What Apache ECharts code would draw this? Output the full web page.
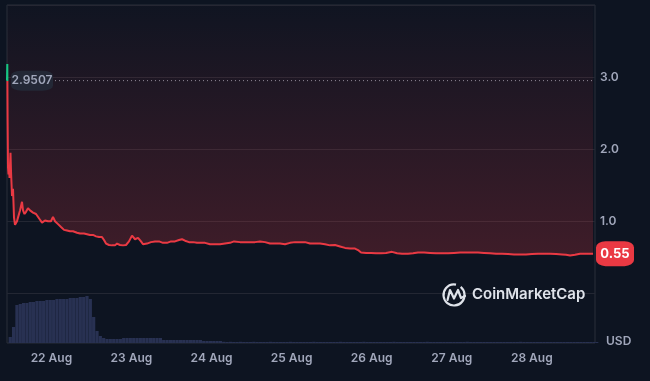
<!DOCTYPE html>
<html><head><meta charset="utf-8">
<script src="https://cdn.jsdelivr.net/npm/echarts@6/dist/echarts.min.js"></script>
<style>html,body{margin:0;padding:0;background:#0d1421;}#c{width:650px;height:381px;}</style>
</head><body><div id="c"></div>
<script>
// ---- data ----
const startTime = new Date(2024, 7, 21, 11, 10).getTime();
const spanHours = 175.3;
const priceHours = [0,0.09,0.18,0.3,0.45,0.6,0.75,1.04,1.19,1.49,1.79,2.09,2.39,2.68,2.98,3.28,3.88,4.47,4.77,5.22,5.67,6.26,6.86,7.75,8.65,9.24,9.84,10.44,11.33,12.22,13.12,13.71,14.31,15.21,16.1,17.0,17.89,18.78,19.68,20.87,21.77,22.96,23.85,24.75,25.64,26.54,27.43,28.32,28.92,29.52,30.41,31.31,32.2,32.8,33.69,34.59,35.48,36.37,37.27,38.16,39.06,39.95,40.55,41.74,42.93,44.13,45.32,46.51,47.7,48.9,50.09,51.28,52.18,53.07,54.26,55.46,56.65,57.84,59.03,60.52,62.02,63.51,65.0,66.49,67.68,69.47,70.96,72.45,73.94,75.43,76.92,78.41,79.9,81.4,82.89,84.38,85.87,87.36,88.85,90.34,91.83,93.32,94.81,96.3,97.79,99.28,100.78,102.27,103.76,104.65,105.55,107.04,108.53,110.02,111.51,113.0,114.79,116.28,117.77,119.56,121.05,122.54,124.33,126.12,127.91,129.7,131.49,133.27,135.06,136.85,138.64,140.43,142.22,144.01,145.8,147.58,149.37,151.16,152.95,154.74,156.53,158.32,160.11,161.9,163.69,165.47,166.67,167.86,169.35,170.84,172.34,173.83,174.72];
const prices = [2.9507,3.18,2.4,1.75,1.65,1.75,1.6,1.95,1.7,1.35,1.45,1.05,0.95,0.93,1.0,1.05,1.15,1.27,1.15,1.1,1.13,1.18,1.15,1.12,1.1,1.09,1.02,0.98,1.01,1.0,1.0,1.06,1.0,0.96,0.92,0.88,0.87,0.86,0.86,0.84,0.83,0.83,0.82,0.81,0.81,0.79,0.78,0.78,0.74,0.69,0.67,0.665,0.665,0.69,0.67,0.665,0.67,0.72,0.80,0.75,0.77,0.72,0.68,0.69,0.71,0.72,0.72,0.70,0.70,0.72,0.72,0.74,0.75,0.73,0.71,0.71,0.70,0.70,0.70,0.68,0.68,0.68,0.69,0.70,0.72,0.71,0.71,0.71,0.71,0.72,0.71,0.69,0.69,0.69,0.68,0.70,0.71,0.71,0.71,0.69,0.69,0.69,0.68,0.665,0.67,0.65,0.63,0.62,0.62,0.60,0.565,0.56,0.56,0.555,0.555,0.56,0.575,0.555,0.55,0.55,0.555,0.565,0.565,0.56,0.555,0.555,0.555,0.56,0.565,0.565,0.565,0.565,0.56,0.555,0.55,0.55,0.545,0.54,0.54,0.54,0.545,0.55,0.55,0.55,0.545,0.54,0.535,0.525,0.535,0.55,0.55,0.55,0.55];
// hourly volume (relative units), hour 0..175
const volumes = [6,16,38,39,40,40,41,41,42,42,42,43,43,43,44,44,44,44,45,45,45,46,46,47,44,26,12,7,5,4,4,4,4,4,5,5,5,5,5,5,5,5,5,5,5,5,3,3,3,3,3,3,3,3,3,3,3,3,2,2,2,2,2,2,1.2,1,1.2,1,1,1.2,1,1,1,1.2,1,1,1,1,1.2,1,1,1,1,1,1.2,1,1,1,1,1,1,1.2,1,1,1,1,1,1,1,1.2,1,1,1,1,1,1,1.2,1,1,1,1,1,1,1,1,1.2,1,1,1,1,1,1,1,1,1,1.2,1,1,1,1,1,1,1,1,1,1,1,1.2,1,1,1,1,1,1,1,1,1,1,1,1,1,1,1,1.2,1,1,1,1,1,1,1,1,1,1,1,1,1,1,1,1,1,1,1,1,1,1,1];
const openPrice = 2.9507;
const lastPrice = 0.55;
const yTickValues = [1, 2, 3];
const dayLabels = {22:'22 Aug',23:'23 Aug',24:'24 Aug',25:'25 Aug',26:'26 Aug',27:'27 Aug',28:'28 Aug'};

// ---- build ----
const H = 3600 * 1000;
const endTime = startTime + spanHours * H;
const priceData = priceHours.map((h, i) => [startTime + h * H, prices[i]]);
const volData = volumes.map((v, i) => [startTime + (i + 0.5) * H, v]);

const chart = echarts.init(document.getElementById('c'), null, {renderer: 'canvas'});
const gridColor = '#232733';
const frameColor = '#2a2e3a';
const labelColor = '#a1a7bb';
const font = 'Inter, "Noto Sans", sans-serif';
const RED = '#ea3943', GREEN = '#16c784';

chart.setOption({
  backgroundColor: '#0d1421',
  animation: false,
  textStyle: {fontFamily: font},
  grid: [
    {left: 7, right: 55, top: 5, bottom: 87.7},
    {left: 7, right: 55, top: 293, bottom: 38},
    {left: 7, right: 55, top: 5, bottom: 38, show: true, borderColor: frameColor, borderWidth: 1, backgroundColor: 'transparent'}
  ],
  xAxis: [
    {type: 'time', gridIndex: 0, min: startTime, max: endTime, show: false},
    {type: 'time', gridIndex: 1, min: startTime, max: endTime,
      minInterval: 24 * H, maxInterval: 24 * H,
      axisLine: {show: false}, axisTick: {show: false}, splitLine: {show: false},
      axisLabel: {color: labelColor, fontSize: 12, fontWeight: 600, fontFamily: font, margin: 9,
        showMinLabel: false, showMaxLabel: false,
        formatter: v => { const d = new Date(v); return (d.getHours() === 0 && dayLabels[d.getDate()]) ? dayLabels[d.getDate()] : ''; }}},
    {type: 'value', gridIndex: 2, show: false}
  ],
  yAxis: [
    {type: 'value', gridIndex: 0, position: 'right', min: 0, max: 4, interval: 1,
      axisLine: {show: false}, axisTick: {show: false},
      splitLine: {lineStyle: {color: gridColor, width: 1}},
      axisLabel: {color: labelColor, fontSize: 12, fontWeight: 600, fontFamily: font, margin: 5,
        verticalAlign: 'middle', padding: [3, 0, 0, 0],
        formatter: v => yTickValues.includes(v) ? v.toFixed(1) : ''}},
    {type: 'value', gridIndex: 1, min: 0, max: 50, show: false},
    {type: 'value', gridIndex: 2, show: false}
  ],
  series: [
    {
      id: 'price', type: 'line', xAxisIndex: 0, yAxisIndex: 0, data: priceData,
      showSymbol: false, symbol: 'none',
      lineStyle: {width: 2, color: RED},
      areaStyle: {origin: 'end', color: new echarts.graphic.LinearGradient(0, 0, 0, 1, [
        {offset: 0, color: 'rgba(234,57,67,0.02)'},
        {offset: 1, color: 'rgba(234,57,67,0.32)'}
      ])},
      z: 3
    },
    {
      type: 'line', xAxisIndex: 0, yAxisIndex: 0, silent: true, symbol: 'none', z: 2,
      data: [[startTime, openPrice], [endTime, openPrice]],
      lineStyle: {color: '#8a919e', type: [1, 3], width: 1}
    },
    {
      type: 'bar', xAxisIndex: 1, yAxisIndex: 1, data: volData,
      barWidth: 3.2, itemStyle: {color: '#283152'}, silent: true
    },
    {
      type: 'scatter', xAxisIndex: 0, yAxisIndex: 0, silent: true, z: 5,
      data: [[startTime, openPrice]],
      symbol: 'roundRect', symbolSize: [42, 20], symbolOffset: [25, 0],
      itemStyle: {color: '#232836', opacity: 1},
      label: {show: true, position: 'inside', formatter: '2.9507', color: labelColor, fontSize: 12, fontWeight: 600, fontFamily: font}
    },
    {
      type: 'scatter', xAxisIndex: 0, yAxisIndex: 0, silent: true, z: 5,
      data: [[endTime, lastPrice]],
      symbol: 'roundRect', symbolSize: [38, 25], symbolOffset: [20, 0],
      itemStyle: {color: RED, opacity: 1},
      label: {show: true, position: 'inside', formatter: '0.55', color: '#ffffff', fontSize: 13, fontWeight: 700, fontFamily: font}
    }
  ],
  graphic: [
    {type: 'arc', shape: {cx: 454, cy: 295, r: 10.5, startAngle: -Math.PI * 0.28, endAngle: Math.PI * 1.72 - 0.5}, style: {stroke: '#dfe3ea', lineWidth: 2.2, fill: null}, z: 10},
    {type: 'polyline', shape: {points: [[447.5, 300], [450, 290], [454, 298.5], [458, 290], [461, 298], [465, 296]]}, style: {stroke: '#dfe3ea', lineWidth: 2.2, fill: null, lineJoin: 'round', lineCap: 'round'}, z: 10},
    {type: 'text', left: 472, top: 287, style: {text: 'CoinMarketCap', fill: '#dfe3ea', font: '600 15px ' + font}, z: 10},
    {type: 'text', left: 606, top: 335, style: {text: 'USD', fill: labelColor, font: '600 12px ' + font}, z: 10}
  ]
});

// colour the line green above the opening price and red below it
const yOpen = chart.convertToPixel({gridIndex: 0}, [startTime, openPrice])[1];
const f = yOpen / 381;
chart.setOption({series: [{id: 'price', lineStyle: {color: new echarts.graphic.LinearGradient(0, 0, 0, 381, [
  {offset: 0, color: GREEN}, {offset: f, color: GREEN}, {offset: f, color: RED}, {offset: 1, color: RED}
], true)}}]});
</script>
</body></html>
